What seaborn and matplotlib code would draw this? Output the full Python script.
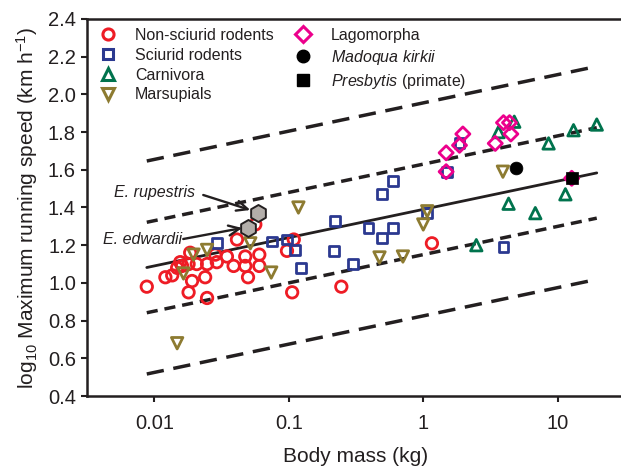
import numpy as np
import pandas as pd
import matplotlib
matplotlib.use("Agg")
import matplotlib.pyplot as plt
from matplotlib.lines import Line2D
import seaborn as sns

# ---------------- data ----------------
nonsciurid_mass = [0.0088, 0.0121, 0.0136, 0.0156, 0.0161, 0.0180, 0.0185, 0.0207, 0.0191,
                   0.0180, 0.0247, 0.0239, 0.0247, 0.0292, 0.0284, 0.0347, 0.0389, 0.0412,
                   0.0475, 0.0475, 0.0498, 0.0604, 0.0604, 0.0564, 0.097, 0.106, 0.0148,
                   0.109, 0.246, 1.16]
nonsciurid_speed = [0.98, 1.03, 1.04, 1.11, 1.09, 1.10, 1.16, 1.10, 1.01,
                    0.95, 1.10, 1.03, 0.92, 1.11, 1.15, 1.14, 1.09, 1.23,
                    1.14, 1.09, 1.03, 1.15, 1.09, 1.31, 1.17, 0.95, 1.08,
                    1.23, 0.98, 1.21]

sciurid_mass = [0.0292, 0.075, 0.097, 0.112, 0.123, 0.222, 0.218, 0.30, 0.392, 0.493,
                0.594, 0.493, 0.594, 1.07, 1.50, 1.86, 3.95]
sciurid_speed = [1.21, 1.22, 1.23, 1.175, 1.08, 1.33, 1.17, 1.10, 1.29, 1.24,
                 1.29, 1.47, 1.54, 1.37, 1.59, 1.74, 1.19]

carnivora_mass = [4.75, 3.63, 4.31, 6.81, 8.55, 13.1, 19.5, 11.4, 2.48]
carnivora_speed = [1.855, 1.80, 1.42, 1.37, 1.74, 1.81, 1.84, 1.47, 1.20]

marsupial_mass = [0.0148, 0.0165, 0.0196, 0.0247, 0.0518, 0.0741, 0.118, 0.473, 0.706,
                  1.0, 1.07, 3.91]
marsupial_speed = [0.68, 1.05, 1.15, 1.175, 1.21, 1.055, 1.40, 1.135, 1.14,
                   1.31, 1.38, 1.59]

lagomorph_mass = [1.97, 1.86, 1.48, 1.48, 3.95, 4.38, 4.48, 3.43, 12.7]
lagomorph_speed = [1.79, 1.73, 1.69, 1.59, 1.85, 1.85, 1.79, 1.74, 1.555]

madoqua_mass = [4.91]
madoqua_speed = [1.61]
presbytis_mass = [12.7]
presbytis_speed = [1.555]

elephantulus_names = ["E. rupestris", "E. edwardii"]
elephantulus_mass = [0.059, 0.0497]
elephantulus_speed = [1.37, 1.29]

# regression line and intervals
fit_intercept = 1.39
fit_slope = 0.15
inner_offset = 0.24
outer_offset = 0.565
fit_mass_range = [0.0088, 19.5]

x_ticks = [0.01, 0.1, 1, 10]
x_ticklabels = ["0.01", "0.1", "1", "10"]
y_ticks = [0.4, 0.6, 0.8, 1.0, 1.2, 1.4, 1.6, 1.8, 2.0, 2.2, 2.4]

legend_labels = ["Non-sciurid rodents", "Sciurid rodents", "Carnivora", "Marsupials",
                 "Lagomorpha", r"$\it{Madoqua\ kirkii}$", r"$\it{Presbytis}$ (primate)"]

# ---------------- style ----------------
sns.set_theme(style="ticks")
plt.rcParams["font.family"] = ["Liberation Sans", "DejaVu Sans"]
plt.rcParams["mathtext.fontset"] = "custom"
plt.rcParams["mathtext.rm"] = "Liberation Sans"
plt.rcParams["mathtext.it"] = "Liberation Sans:italic"
plt.rcParams["mathtext.bf"] = "Liberation Sans:bold"

INK = "#231f20"
RED = "#ee1c25"
BLUE = "#2b3990"
GREEN = "#00734d"
OLIVE = "#8d7b31"
PINK = "#ec008c"

fig = plt.figure(figsize=(6.21, 4.66), dpi=100)
ax = fig.add_axes([87 / 621, 1 - 396 / 466, 538 / 621, 377 / 466])

# regression lines
xl = np.logspace(np.log10(fit_mass_range[0]), np.log10(fit_mass_range[1]), 50)
yl = fit_intercept + fit_slope * np.log10(xl)
line_df = pd.DataFrame({"mass": xl, "fit": yl})
sns.lineplot(data=line_df, x="mass", y="fit", color=INK, lw=2.0, ax=ax)
for sign in (1, -1):
    ax.plot(xl, yl + sign * inner_offset, color=INK, lw=2.5, dashes=(3.2, 2.0),
            solid_capstyle="butt")
    ax.plot(xl, yl + sign * outer_offset, color=INK, lw=2.5, dashes=(5.0, 2.8),
            solid_capstyle="butt")

def open_pts(mass, speed, marker, color, s, lw=2.0):
    sns.scatterplot(x=mass, y=speed, marker=marker, s=s, color=color,
                    facecolor="none", edgecolor=color, linewidth=lw, ax=ax, zorder=3)

open_pts(nonsciurid_mass, nonsciurid_speed, "o", RED, 68)
open_pts(sciurid_mass, sciurid_speed, "s", BLUE, 50)
open_pts(carnivora_mass, carnivora_speed, "^", GREEN, 68)
open_pts(marsupial_mass, marsupial_speed, "v", OLIVE, 68)
open_pts(lagomorph_mass, lagomorph_speed, "D", PINK, 52)

sns.scatterplot(x=madoqua_mass, y=madoqua_speed, marker="o", s=85, color="black",
                edgecolor="black", linewidth=0.5, ax=ax, zorder=4)
sns.scatterplot(x=presbytis_mass, y=presbytis_speed, marker="s", s=85, color="black",
                edgecolor="black", linewidth=0.5, ax=ax, zorder=4)
sns.scatterplot(x=elephantulus_mass, y=elephantulus_speed, marker="h", s=150,
                color="#b3aeaa", edgecolor=INK, linewidth=1.4, ax=ax, zorder=5)

# annotations (positions given in pixels of the figure, converted to data)
def px2data(px, py):
    lx = (px - 154) / 134.5 - 2
    return 10 ** lx, 0.4 + (396 - py) / 188.5

for name, (tx, ty), (sx, sy), (hx, hy) in zip(
        elephantulus_names,
        [(154, 193), (142, 240)],
        [(203, 195), (183, 239)],
        [(250, 210), (242, 228)]):
    ax.annotate("", xy=px2data(hx, hy), xytext=px2data(sx, sy),
                arrowprops=dict(arrowstyle="->,head_length=0.65,head_width=0.3",
                                color=INK, lw=1.7, shrinkA=0, shrinkB=0),
                zorder=6)
    tx_d, ty_d = px2data(tx, ty)
    ax.text(tx_d, ty_d, name, style="italic", fontsize=11.5, ha="center", va="center",
            color=INK, zorder=6)

# axes
ax.set_xscale("log")
ax.set_xlim(10 ** -2.5, 10 ** 1.5)
ax.set_ylim(0.4, 2.4)
ax.set_xticks(x_ticks)
ax.set_xticklabels(x_ticklabels)
ax.xaxis.set_minor_locator(matplotlib.ticker.NullLocator())
ax.set_yticks(y_ticks)
ax.set_yticklabels([f"{t:.1f}" for t in y_ticks])
ax.tick_params(axis="both", labelsize=14.5, length=4.0, width=1.5, color=INK,
               labelcolor=INK, direction="out")
ax.tick_params(axis="x", pad=9)
ax.tick_params(axis="y", pad=4)
for sp in ax.spines.values():
    sp.set_linewidth(1.8)
    sp.set_color(INK)
ax.set_xlabel("Body mass (kg)", fontsize=15, color=INK, labelpad=10)
ax.set_ylabel(r"log$_{10}$ Maximum running speed (km h$^{-1}$)", fontsize=15,
              color=INK, labelpad=6)

# legend
handles = [
    Line2D([], [], ls="none", marker="o", ms=8, mfc="none", mec=RED, mew=2.2),
    Line2D([], [], ls="none", marker="s", ms=7, mfc="none", mec=BLUE, mew=2.2),
    Line2D([], [], ls="none", marker="^", ms=8, mfc="none", mec=GREEN, mew=2.2),
    Line2D([], [], ls="none", marker="v", ms=8, mfc="none", mec=OLIVE, mew=2.2),
    Line2D([], [], ls="none", marker="D", ms=8, mfc="none", mec=PINK, mew=2.2),
    Line2D([], [], ls="none", marker="o", ms=9, mfc="black", mec="black"),
    Line2D([], [], ls="none", marker="s", ms=8.5, mfc="black", mec="black"),
]
leg = ax.legend(handles, legend_labels, ncol=2, loc="upper left",
                bbox_to_anchor=((100 - 87) / 538, (396 - 28) / 377),
                frameon=False, fontsize=11.5, handlelength=1.0, handletextpad=1.2,
                columnspacing=1.35, labelspacing=0.3, borderpad=0, borderaxespad=0)
for t in leg.get_texts():
    t.set_color(INK)

fig.savefig("out.png", dpi=100)
